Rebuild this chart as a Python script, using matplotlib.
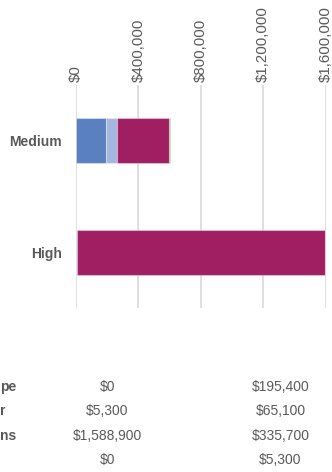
import matplotlib
matplotlib.use('Agg')
import matplotlib.pyplot as plt

# categories, bottom to top in the chart
categories = ['High', 'Medium']

# stacked series (values for High, Medium)
series_names = ['pe', 'r', 'ns', '']
landscape = [0, 195400]
other = [5300, 65100]
emissions = [1588900, 335700]
last = [0, 5300]

colors = ['#5A80C0', '#A4B7E0', '#A01E62', '#7AA350']

xticks = [0, 400000, 800000, 1200000, 1600000]

plt.rcParams['font.family'] = ['Liberation Sans', 'DejaVu Sans']
grey = '#595959'

fig = plt.figure(figsize=(3.32, 4.72), dpi=100)
W, H = 332.0, 472.0
ax = fig.add_axes([76 / W, 1 - 308 / H, 249.7 / W, 223 / H])

left = [0, 0]
for vals, c in zip([landscape, other, emissions, last], colors):
	ax.barh(range(len(categories)), vals, left=left, height=0.4, color=c,
		edgecolor=(1, 1, 1, 0.35), linewidth=0.8, zorder=3)
	left = [a + b for a, b in zip(left, vals)]

ax.set_xlim(0, 1600000)
ax.set_ylim(-0.5, 1.5)
ax.set_xticks(xticks)
ax.set_xticklabels(['${:,.0f}'.format(v) for v in xticks], rotation=90, fontsize=10.8, color=grey)
ax.xaxis.tick_top()
ax.tick_params(axis='x', length=0, pad=2)
ax.set_yticks(range(len(categories)))
ax.set_yticklabels(categories, fontsize=10, fontweight='bold', color=grey)
ax.tick_params(axis='y', length=0, pad=10)
ax.grid(axis='x', color='#D9D9D9', linewidth=1.2, zorder=0)
for s in ax.spines.values():
	s.set_visible(False)

# data table below the chart
row_y = [387, 411, 436, 460]
col_x = {'High': 107.5, 'Medium': 280.5}
table = [landscape, other, emissions, last]
for i, (name, vals) in enumerate(zip(series_names, table)):
	y = 1 - row_y[i] / H
	fig.text(0, y, name, ha='left', va='center', fontsize=10, fontweight='bold', color=grey)
	for j, cat in enumerate(categories):
		fig.text(col_x[cat] / W, y, '${:,.0f}'.format(vals[j]), ha='center', va='center',
			fontsize=10, color=grey)

fig.savefig('out.png', dpi=100)
plt.close('all')
